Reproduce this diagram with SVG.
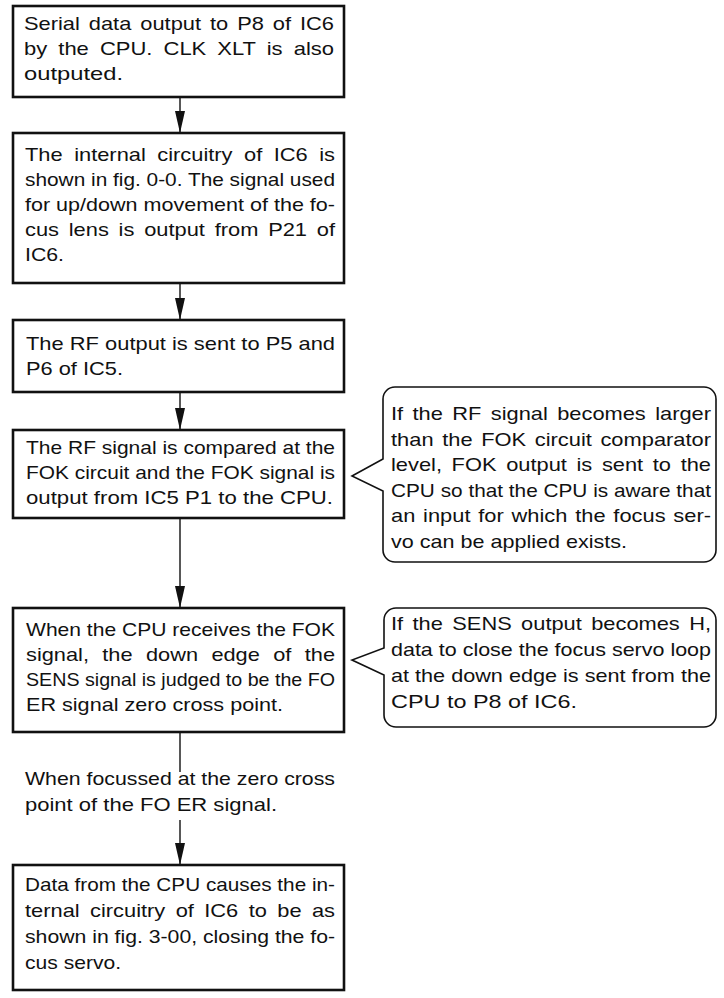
<svg xmlns="http://www.w3.org/2000/svg" width="724" height="998" viewBox="0 0 724 998">
<defs>
<marker id="ah" markerUnits="userSpaceOnUse" viewBox="0 0 22 10" markerWidth="22" markerHeight="10" refX="22" refY="5" orient="auto">
<path d="M0,0 L22,5 L0,10 Z" fill="#111"/>
</marker>
</defs>
<style>
.box{fill:#fff;stroke:#111;stroke-width:2.6}
.call{fill:#fff;stroke:#111;stroke-width:1.6;stroke-linejoin:miter}
.t,.c{font-family:"Liberation Sans",Arial,sans-serif;font-size:19px;fill:#111}
.ln{stroke:#111;stroke-width:1.4;fill:none}
.arr{marker-end:url(#ah)}
</style>
<rect width="724" height="998" fill="#fff"/>
<g id="connectors">
<line class="ln arr" x1="180" y1="97" x2="180" y2="133"/>
<line class="ln arr" x1="180" y1="283" x2="180" y2="320"/>
<line class="ln arr" x1="180" y1="392" x2="180" y2="430"/>
<line class="ln arr" x1="180" y1="518" x2="180" y2="608"/>
<line class="ln" x1="180" y1="732" x2="180" y2="772"/>
<line class="ln arr" x1="180" y1="820" x2="180" y2="865"/>
</g>
<g id="n1">
<rect class="box" x="13" y="6" width="331" height="91"/>
<text class="t" x="24" y="30" word-spacing="2.5" textLength="310" lengthAdjust="spacingAndGlyphs">Serial data output to P8 of IC6</text>
<text class="t" x="24" y="55" word-spacing="4.3" textLength="310" lengthAdjust="spacingAndGlyphs">by the CPU. CLK XLT is also</text>
<text class="t" x="24" y="80" textLength="99" lengthAdjust="spacingAndGlyphs">outputed.</text>
</g>
<g id="n2">
<rect class="box" x="13" y="133" width="331" height="150"/>
<text class="t" x="25" y="161" word-spacing="4.7" textLength="310" lengthAdjust="spacingAndGlyphs">The internal circuitry of IC6 is</text>
<text class="t" x="25" y="186" textLength="310" lengthAdjust="spacingAndGlyphs">shown in fig. 0-0. The signal used</text>
<text class="t" x="25" y="211" textLength="310" lengthAdjust="spacingAndGlyphs">for up/down movement of the fo-</text>
<text class="t" x="25" y="236" word-spacing="3.2" textLength="310" lengthAdjust="spacingAndGlyphs">cus lens is output from P21 of</text>
<text class="t" x="25" y="261" textLength="39" lengthAdjust="spacingAndGlyphs">IC6.</text>
</g>
<g id="n3">
<rect class="box" x="13" y="320" width="331" height="72"/>
<text class="t" x="26" y="350" textLength="309" lengthAdjust="spacingAndGlyphs">The RF output is sent to P5 and</text>
<text class="t" x="26" y="375" textLength="97" lengthAdjust="spacingAndGlyphs">P6 of IC5.</text>
</g>
<g id="n4">
<rect class="box" x="13" y="430" width="331" height="88"/>
<text class="t" x="26" y="454" textLength="309" lengthAdjust="spacingAndGlyphs">The RF signal is compared at the</text>
<text class="t" x="26" y="479" textLength="309" lengthAdjust="spacingAndGlyphs">FOK circuit and the FOK signal is</text>
<text class="t" x="26" y="504" textLength="307" lengthAdjust="spacingAndGlyphs">output from IC5 P1 to the CPU.</text>
</g>
<g id="n5">
<rect class="box" x="13" y="608" width="331" height="124"/>
<text class="t" x="26" y="636" textLength="309" lengthAdjust="spacingAndGlyphs">When the CPU receives the FOK</text>
<text class="t" x="26" y="661" word-spacing="6.4" textLength="309" lengthAdjust="spacingAndGlyphs">signal, the down edge of the</text>
<text class="t" x="26" y="686" textLength="309" lengthAdjust="spacingAndGlyphs">SENS signal is judged to be the FO</text>
<text class="t" x="26" y="711" textLength="257" lengthAdjust="spacingAndGlyphs">ER signal zero cross point.</text>
</g>
<g id="label-focussed">
<text class="t" x="25" y="785" textLength="310" lengthAdjust="spacingAndGlyphs">When focussed at the zero cross</text>
<text class="t" x="25" y="811" textLength="252" lengthAdjust="spacingAndGlyphs">point of the FO ER signal.</text>
</g>
<g id="n6">
<rect class="box" x="13" y="865" width="331" height="125"/>
<text class="t" x="25" y="891" textLength="310" lengthAdjust="spacingAndGlyphs">Data from the CPU causes the in-</text>
<text class="t" x="25" y="917" word-spacing="3.75" textLength="310" lengthAdjust="spacingAndGlyphs">ternal circuitry of IC6 to be as</text>
<text class="t" x="25" y="943" textLength="310" lengthAdjust="spacingAndGlyphs">shown in fig. 3-00, closing the fo-</text>
<text class="t" x="25" y="969" textLength="96" lengthAdjust="spacingAndGlyphs">cus servo.</text>
</g>
<g id="note1">
<path class="call" d="M395,387 H704 A12,12 0 0 1 716,399 V550 A12,12 0 0 1 704,562 H395 A12,12 0 0 1 383,550 V491 L352,476 L383,459 V399 A12,12 0 0 1 395,387 Z"/>
<text class="c" x="391" y="420" word-spacing="2.9" textLength="320" lengthAdjust="spacingAndGlyphs">If the RF signal becomes larger</text>
<text class="c" x="391" y="446" word-spacing="2.2" textLength="320" lengthAdjust="spacingAndGlyphs">than the FOK circuit comparator</text>
<text class="c" x="391" y="471" word-spacing="3.1" textLength="320" lengthAdjust="spacingAndGlyphs">level, FOK output is sent to the</text>
<text class="c" x="391" y="497" textLength="320" lengthAdjust="spacingAndGlyphs">CPU so that the CPU is aware that</text>
<text class="c" x="391" y="522" word-spacing="1.5" textLength="320" lengthAdjust="spacingAndGlyphs">an input for which the focus ser-</text>
<text class="c" x="391" y="548" textLength="236" lengthAdjust="spacingAndGlyphs">vo can be applied exists.</text>
</g>
<g id="note2">
<path class="call" d="M396,608 H704 A12,12 0 0 1 716,620 V715 A12,12 0 0 1 704,727 H396 A12,12 0 0 1 384,715 V675 L352,660 L384,648 V620 A12,12 0 0 1 396,608 Z"/>
<text class="c" x="391" y="630" word-spacing="2.9" textLength="320" lengthAdjust="spacingAndGlyphs">If the SENS output becomes H,</text>
<text class="c" x="391" y="656" textLength="320" lengthAdjust="spacingAndGlyphs">data to close the focus servo loop</text>
<text class="c" x="391" y="682" textLength="320" lengthAdjust="spacingAndGlyphs">at the down edge is sent from the</text>
<text class="c" x="391" y="708" textLength="186" lengthAdjust="spacingAndGlyphs">CPU to P8 of IC6.</text>
</g>
</svg>
